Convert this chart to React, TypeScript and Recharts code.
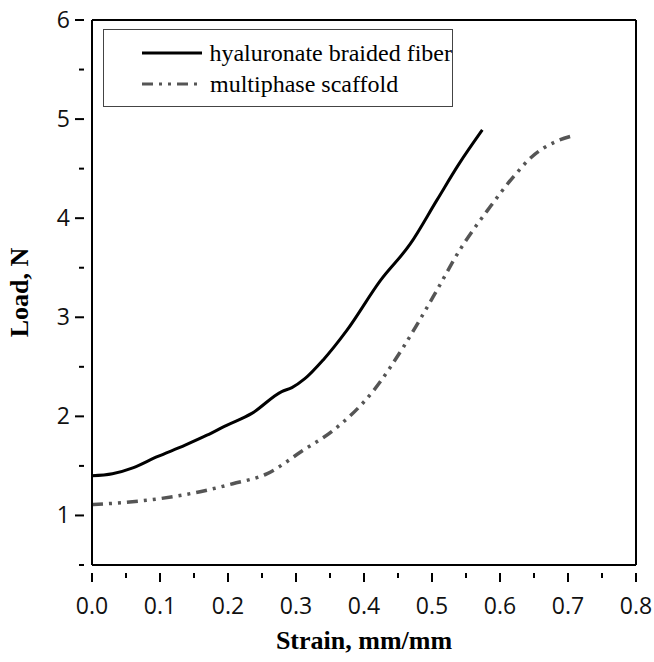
import React from "react";
import {
  LineChart,
  Line,
  XAxis,
  YAxis,
  ReferenceLine,
  Label,
} from "recharts";

// hyaluronate braided fiber (strain, load)
const fiberStrain = [0, 0.03, 0.06, 0.095, 0.137, 0.169, 0.198, 0.235, 0.279, 0.294, 0.313, 0.34, 0.375, 0.424, 0.468, 0.507, 0.54, 0.574];
const fiberLoad = [1.4, 1.42, 1.48, 1.59, 1.71, 1.81, 1.91, 2.03, 2.25, 2.29, 2.38, 2.57, 2.87, 3.37, 3.74, 4.18, 4.55, 4.89];

// multiphase scaffold (strain, load)
const scaffoldStrain = [0, 0.046, 0.1, 0.159, 0.207, 0.257, 0.311, 0.355, 0.414, 0.458, 0.502, 0.541, 0.585, 0.62, 0.647, 0.681, 0.706];
const scaffoldLoad = [1.11, 1.13, 1.17, 1.24, 1.32, 1.42, 1.66, 1.86, 2.26, 2.7, 3.21, 3.68, 4.11, 4.42, 4.62, 4.77, 4.83];

const xTicks = [0, 0.05, 0.1, 0.15, 0.2, 0.25, 0.3, 0.35, 0.4, 0.45, 0.5, 0.55, 0.6, 0.65, 0.7, 0.75, 0.8];
const yTicks = [0.5, 1, 1.5, 2, 2.5, 3, 3.5, 4, 4.5, 5, 5.5, 6];

const seriesNames = ["hyaluronate braided fiber", "multiphase scaffold"];

const fiberData = fiberStrain.map((s, i) => ({ strain: s, load: fiberLoad[i] }));
const scaffoldData = scaffoldStrain.map((s, i) => ({ strain: s, load: scaffoldLoad[i] }));

const tickFont = "'Open Sans', 'DejaVu Sans', sans-serif";
const titleFont = "'Liberation Serif', 'DejaVu Serif', serif";
const DASH = "11 6 3 6 3 6";

const XTick = (props: any) => {
  const { x, y, payload } = props;
  const v = payload.value;
  const major = Math.abs(Math.round(v * 10) - v * 10) < 1e-6;
  return (
    <g>
      <line x1={x} x2={x} y1={y} y2={y + (major ? 9 : 5)} stroke="#000" strokeWidth={2} />
      {major && (
        <text x={x} y={y + 41} textAnchor="middle" fontSize={23} fontFamily={tickFont} fill="#111">
          {v.toFixed(1)}
        </text>
      )}
    </g>
  );
};

const YTick = (props: any) => {
  const { x, y, payload } = props;
  const v = payload.value;
  const major = Number.isInteger(v);
  return (
    <g>
      <line x1={x} x2={x - (major ? 9 : 5)} y1={y} y2={y} stroke="#000" strokeWidth={2} />
      {major && (
        <text x={x - 14} y={y + 8} textAnchor="end" fontSize={23} fontFamily={tickFont} fill="#111">
          {v}
        </text>
      )}
    </g>
  );
};

// legend drawn as overlay so it doesn't push the plot down
const LegendBox = () => (
  <div
    style={{
      position: "absolute",
      left: 103,
      top: 29,
      width: 350,
      height: 78,
      border: "1.5px solid #444",
      background: "#fff",
      fontFamily: titleFont,
      fontSize: 24,
      color: "#000",
      boxSizing: "border-box",
      paddingTop: 7,
      whiteSpace: "nowrap",
    }}
  >
    <div style={{ display: "flex", alignItems: "center", height: 32 }}>
      <svg width={100} height={20}>
        <line x1={38} x2={98} y1={10} y2={10} stroke="#000" strokeWidth={3} />
      </svg>
      <span style={{ marginLeft: 6 }}>{seriesNames[0]}</span>
    </div>
    <div style={{ display: "flex", alignItems: "center", height: 30 }}>
      <svg width={100} height={20}>
        <line x1={38} x2={98} y1={10} y2={10} stroke="#555" strokeWidth={3} strokeDasharray={DASH} />
      </svg>
      <span style={{ marginLeft: 6 }}>{seriesNames[1]}</span>
    </div>
  </div>
);

export default function App() {
  return (
    <div style={{ position: "absolute", left: 0, top: 0, width: 654, height: 662, background: "#fff" }}>
      <LineChart width={654} height={662} margin={{ top: 20, right: 18, bottom: 37, left: 32 }}>
        <XAxis
          type="number"
          dataKey="strain"
          domain={[0, 0.8]}
          ticks={xTicks}
          interval={0}
          tick={<XTick />}
          tickLine={false}
          axisLine={{ stroke: "#000", strokeWidth: 2 }}
          height={60}
          allowDuplicatedCategory={false}
        >
          <Label
            content={(p: any) => {
              const vb = p.viewBox;
              return (
                <text
                  x={vb.x + vb.width / 2}
                  y={vb.y + 84}
                  textAnchor="middle"
                  fontSize={26}
                  fontWeight="bold"
                  fontFamily={titleFont}
                  fill="#000"
                >
                  Strain, mm/mm
                </text>
              );
            }}
          />
        </XAxis>
        <YAxis
          type="number"
          dataKey="load"
          domain={[0.5, 6]}
          ticks={yTicks}
          interval={0}
          tick={<YTick />}
          tickLine={false}
          axisLine={{ stroke: "#000", strokeWidth: 2 }}
          width={60}
        >
          <Label
            content={(p: any) => {
              const vb = p.viewBox;
              const cx = vb.x - 4;
              const cy = vb.y + vb.height / 2;
              return (
                <text
                  x={cx}
                  y={cy}
                  transform={`rotate(-90 ${cx} ${cy})`}
                  textAnchor="middle"
                  fontSize={26}
                  fontWeight="bold"
                  fontFamily={titleFont}
                  fill="#000"
                >
                  Load, N
                </text>
              );
            }}
          />
        </YAxis>
        <ReferenceLine y={6} stroke="#000" strokeWidth={2} />
        <ReferenceLine x={0.8} stroke="#000" strokeWidth={2} />
        <Line
          data={fiberData}
          dataKey="load"
          type="monotone"
          stroke="#000"
          strokeWidth={3}
          dot={false}
          isAnimationActive={false}
          name={seriesNames[0]}
        />
        <Line
          data={scaffoldData}
          dataKey="load"
          type="monotone"
          stroke="#555"
          strokeWidth={3.5}
          strokeDasharray={DASH}
          dot={false}
          isAnimationActive={false}
          name={seriesNames[1]}
        />
      </LineChart>
      <LegendBox />
    </div>
  );
}
